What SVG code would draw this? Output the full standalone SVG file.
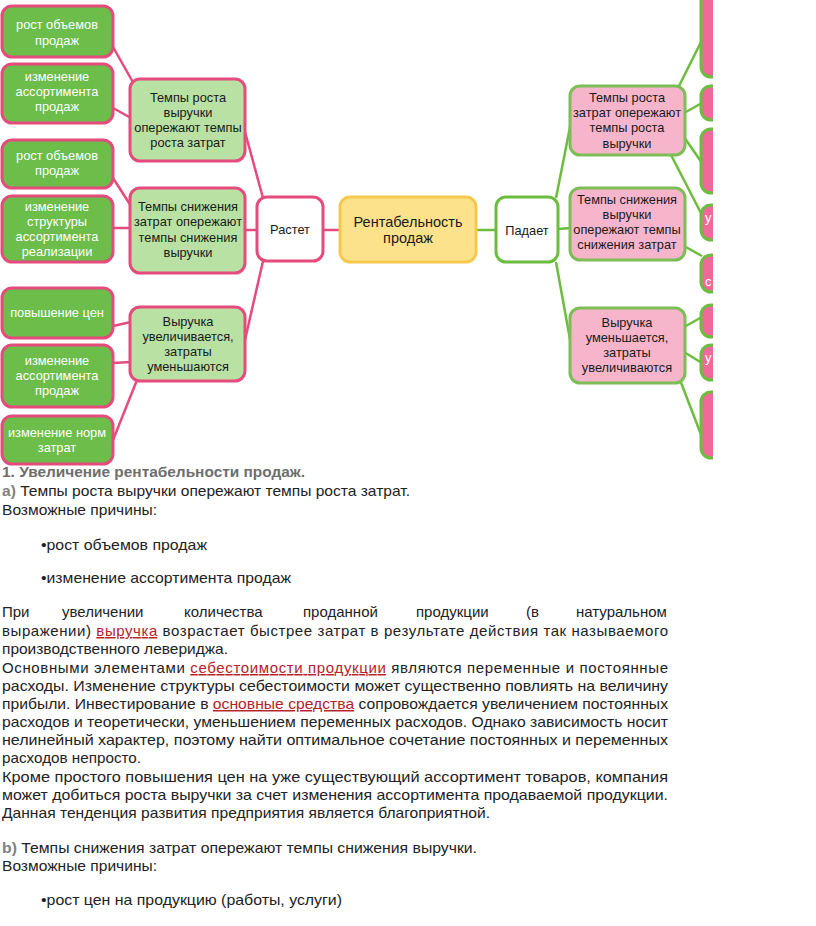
<svg xmlns="http://www.w3.org/2000/svg" width="816" height="926" viewBox="0 0 816 926">
<style>
.dg{fill:#6cbd4a;stroke:#e54b7c;stroke-width:3}
.lg{fill:#b9e1a3;stroke:#e54b7c;stroke-width:3}
.wp{fill:#ffffff;stroke:#e54b7c;stroke-width:3}
.wg{fill:#ffffff;stroke:#6cbd3e;stroke-width:3}
.yl{fill:#fde28c;stroke:#f5c84e;stroke-width:3}
.pk{fill:#f6b5ca;stroke:#7cbd55;stroke-width:3}
.hp{fill:#f0699a;stroke:#6cbd3e;stroke-width:3}
.cp{fill:none;stroke:#e54b7c;stroke-width:2.5}
.cg{fill:none;stroke:#6cbd3e;stroke-width:2.5}
.tw{font-family:"Liberation Sans",Arial,sans-serif;font-size:12.8px;fill:#ffffff;text-anchor:middle}
.tb{font-family:"Liberation Sans",Arial,sans-serif;font-size:12.8px;fill:#1a1a1a;text-anchor:middle}
.body{font-family:"Liberation Sans",Arial,sans-serif;font-size:15px;fill:#222222}
.head{font-family:"Liberation Sans",Arial,sans-serif;font-size:15px;font-weight:bold;fill:#6e6e6e}
.gr{fill:#808080}
.lnk{fill:#b5222a;text-decoration:underline}
</style>
<defs>
<clipPath id="clipR"><rect x="0" y="0" width="713" height="470"/></clipPath>
</defs>
<g id="connectors">
<path class="cp" d="M113 47 L134 84"/>
<path class="cp" d="M113 108 L131 118"/>
<path class="cp" d="M245 132 L263 198"/>
<path class="cp" d="M113 178 L131 206"/>
<path class="cp" d="M113 228 L131 228"/>
<path class="cp" d="M245 230 L258 230"/>
<path class="cp" d="M113 326 L131 322"/>
<path class="cp" d="M113 363 L131 362"/>
<path class="cp" d="M113 440 L137 380"/>
<path class="cp" d="M245 340 L263 261"/>
<path class="cp" d="M323 230 L341 230"/>
<path class="cg" d="M476 230 L497 230"/>
<path class="cg" d="M556 198 L571 122"/>
<path class="cg" d="M558 229 L571 228"/>
<path class="cg" d="M556 262 L571 345"/>
<g clip-path="url(#clipR)">
<path class="cg" d="M678 88 L702 40"/>
<path class="cg" d="M684 113 L702 103"/>
<path class="cg" d="M684 137 L702 163"/>
<path class="cg" d="M671 155 L702 215"/>
<path class="cg" d="M684 246 L702 256"/>
<path class="cg" d="M684 327 L702 317"/>
<path class="cg" d="M684 352 L702 363"/>
<path class="cg" d="M680 380 L702 437"/>
</g>
</g>
<g id="L1"><rect class="dg" x="2" y="6" width="111" height="51" rx="10"/><text class="tw" x="57" y="29">рост объемов</text><text class="tw" x="57" y="45">продаж</text></g>
<g id="L2"><rect class="dg" x="2" y="64" width="111" height="59" rx="10"/><text class="tw" x="57" y="81">изменение</text><text class="tw" x="57" y="96">ассортимента</text><text class="tw" x="57" y="111">продаж</text></g>
<g id="L3"><rect class="dg" x="2" y="140" width="111" height="48" rx="10"/><text class="tw" x="57" y="160">рост объемов</text><text class="tw" x="57" y="175">продаж</text></g>
<g id="L4"><rect class="dg" x="2" y="196" width="111" height="66" rx="10"/><text class="tw" x="57" y="211">изменение</text><text class="tw" x="57" y="226">структуры</text><text class="tw" x="57" y="241">ассортимента</text><text class="tw" x="57" y="256">реализации</text></g>
<g id="L5"><rect class="dg" x="2" y="288" width="111" height="50" rx="10"/><text class="tw" x="57" y="317">повышение цен</text></g>
<g id="L6"><rect class="dg" x="2" y="345" width="111" height="62" rx="10"/><text class="tw" x="57" y="365">изменение</text><text class="tw" x="57" y="380">ассортимента</text><text class="tw" x="57" y="395">продаж</text></g>
<g id="L7"><rect class="dg" x="2" y="416" width="111" height="48" rx="10"/><text class="tw" x="57" y="437">изменение норм</text><text class="tw" x="57" y="452">затрат</text></g>
<g id="M1"><rect class="lg" x="130" y="79" width="115" height="82" rx="10"/><text class="tb" x="188" y="102">Темпы роста</text><text class="tb" x="188" y="117">выручки</text><text class="tb" x="188" y="132">опережают темпы</text><text class="tb" x="188" y="147">роста затрат</text></g>
<g id="M2"><rect class="lg" x="130" y="188" width="115" height="85" rx="10"/><text class="tb" x="188" y="211">Темпы снижения</text><text class="tb" x="188" y="226">затрат опережают</text><text class="tb" x="188" y="242">темпы снижения</text><text class="tb" x="188" y="257">выручки</text></g>
<g id="M3"><rect class="lg" x="130" y="307" width="115" height="74" rx="10"/><text class="tb" x="188" y="326">Выручка</text><text class="tb" x="188" y="341">увеличивается,</text><text class="tb" x="188" y="356">затраты</text><text class="tb" x="188" y="371">уменьшаются</text></g>
<g id="rastet"><rect class="wp" x="257" y="197" width="66" height="64" rx="10"/><text class="tb" x="290" y="234">Растет</text></g>
<g id="rentab"><rect class="yl" x="340" y="197" width="136" height="65" rx="10"/><text class="tb" x="408" y="227" style="font-size:14.5px">Рентабельность</text><text class="tb" x="408" y="243" style="font-size:14.5px">продаж</text></g>
<g id="padaet"><rect class="wg" x="496" y="197" width="62" height="65" rx="10"/><text class="tb" x="527" y="235">Падает</text></g>
<g id="P1"><rect class="pk" x="570" y="86" width="115" height="69" rx="10"/><text class="tb" x="627" y="102">Темпы роста</text><text class="tb" x="627" y="117">затрат опережают</text><text class="tb" x="627" y="132">темпы роста</text><text class="tb" x="627" y="148">выручки</text></g>
<g id="P2"><rect class="pk" x="570" y="188" width="115" height="72" rx="10"/><text class="tb" x="627" y="204">Темпы снижения</text><text class="tb" x="627" y="219">выручки</text><text class="tb" x="627" y="234">опережают темпы</text><text class="tb" x="627" y="249">снижения затрат</text></g>
<g id="P3"><rect class="pk" x="570" y="308" width="115" height="75" rx="10"/><text class="tb" x="627" y="327">Выручка</text><text class="tb" x="627" y="342">уменьшается,</text><text class="tb" x="627" y="357">затраты</text><text class="tb" x="627" y="372">увеличиваются</text></g>
<g clip-path="url(#clipR)">
<g id="R1"><rect class="hp" x="701" y="-10" width="60" height="87" rx="10"/></g>
<g id="R2"><rect class="hp" x="701" y="86" width="60" height="34" rx="10"/></g>
<g id="R3"><rect class="hp" x="701" y="129" width="60" height="64" rx="10"/></g>
<g id="R4"><rect class="hp" x="701" y="205" width="60" height="35" rx="10"/><text class="tw" x="705" y="222" style="text-anchor:start;font-size:13px">у</text></g>
<g id="R5"><rect class="hp" x="701" y="255" width="60" height="37" rx="10"/><text class="tw" x="705" y="286" style="text-anchor:start;font-size:13px">с</text></g>
<g id="R6"><rect class="hp" x="701" y="305" width="60" height="32" rx="10"/></g>
<g id="R7"><rect class="hp" x="701" y="345" width="60" height="35" rx="10"/><text class="tw" x="705" y="362" style="text-anchor:start;font-size:13px">у</text></g>
<g id="R8"><rect class="hp" x="701" y="392" width="60" height="66" rx="10"/></g>
</g>
<g id="text">
<text class="head" x="2" y="477" textLength="303" lengthAdjust="spacingAndGlyphs">1. Увеличение рентабельности продаж.</text>
<text class="body" x="2" y="496" textLength="408" lengthAdjust="spacingAndGlyphs"><tspan class="gr" font-weight="bold">a)</tspan> Темпы роста выручки опережают темпы роста затрат.</text>
<text class="body" x="2" y="515" textLength="155" lengthAdjust="spacingAndGlyphs">Возможные причины:</text>
<text class="body" x="41" y="550" textLength="166" lengthAdjust="spacingAndGlyphs">•рост объемов продаж</text>
<text class="body" x="41" y="583" textLength="250" lengthAdjust="spacingAndGlyphs">•изменение ассортимента продаж</text>
<text class="body" y="617"><tspan x="2">При</tspan><tspan x="62">увеличении</tspan><tspan x="184">количества</tspan><tspan x="303">проданной</tspan><tspan x="416">продукции</tspan><tspan x="526">(в</tspan><tspan x="576">натуральном</tspan></text>
<text class="body" x="2" y="636" textLength="666" lengthAdjust="spacing">выражении) <tspan class="lnk">выручка</tspan> возрастает быстрее затрат в результате действия так называемого</text>
<text class="body" x="2" y="654" textLength="226" lengthAdjust="spacingAndGlyphs">производственного левериджа.</text>
<text class="body" x="2" y="673" textLength="666" lengthAdjust="spacing">Основными элементами <tspan class="lnk">себестоимости продукции</tspan> являются переменные и постоянные</text>
<text class="body" x="2" y="691" textLength="666" lengthAdjust="spacingAndGlyphs">расходы. Изменение структуры себестоимости может существенно повлиять на величину</text>
<text class="body" x="2" y="709" textLength="666" lengthAdjust="spacingAndGlyphs">прибыли. Инвестирование в <tspan class="lnk">основные средства</tspan> сопровождается увеличением постоянных</text>
<text class="body" x="2" y="727" textLength="666" lengthAdjust="spacingAndGlyphs">расходов и теоретически, уменьшением переменных расходов. Однако зависимость носит</text>
<text class="body" x="2" y="745" textLength="666" lengthAdjust="spacingAndGlyphs">нелинейный характер, поэтому найти оптимальное сочетание постоянных и переменных</text>
<text class="body" x="2" y="763" textLength="139" lengthAdjust="spacingAndGlyphs">расходов непросто.</text>
<text class="body" x="2" y="782" textLength="666" lengthAdjust="spacingAndGlyphs">Кроме простого повышения цен на уже существующий ассортимент товаров, компания</text>
<text class="body" x="2" y="800" textLength="666" lengthAdjust="spacingAndGlyphs">может добиться роста выручки за счет изменения ассортимента продаваемой продукции.</text>
<text class="body" x="2" y="818" textLength="488" lengthAdjust="spacingAndGlyphs">Данная тенденция развития предприятия является благоприятной.</text>
<text class="body" x="2" y="853" textLength="475" lengthAdjust="spacingAndGlyphs"><tspan class="gr" font-weight="bold">b)</tspan> Темпы снижения затрат опережают темпы снижения выручки.</text>
<text class="body" x="2" y="871" textLength="155" lengthAdjust="spacingAndGlyphs">Возможные причины:</text>
<text class="body" x="41" y="905" textLength="301" lengthAdjust="spacingAndGlyphs">•рост цен на продукцию (работы, услуги)</text>
</g>
</svg>
